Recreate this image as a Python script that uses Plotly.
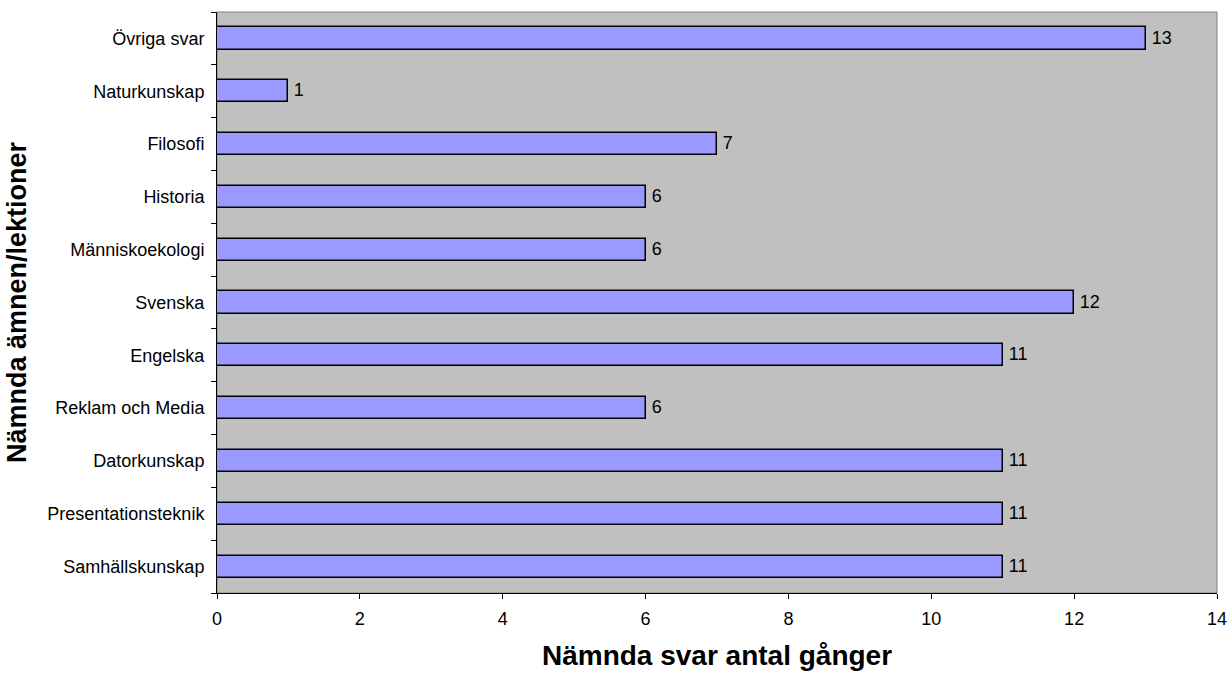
import plotly.graph_objects as go

categories = ["Samhällskunskap", "Presentationsteknik", "Datorkunskap", "Reklam och Media",
              "Engelska", "Svenska", "Människoekologi", "Historia", "Filosofi",
              "Naturkunskap", "Övriga svar"]
values = [11, 11, 11, 6, 11, 12, 6, 6, 7, 1, 13]
x_ticks = [0, 2, 4, 6, 8, 10, 12, 14]

FONT = "Liberation Sans, Arial, sans-serif"

fig = go.Figure(go.Bar(
    y=categories, x=values, orientation="h",
    width=0.42,
    marker=dict(color="#9999FF", line=dict(color="black", width=1.5)),
    text=["\u2009" + str(v) for v in values], textposition="outside",
    textfont=dict(family=FONT, size=18, color="black"),
    cliponaxis=False,
))

fig.update_layout(
    width=1230, height=673,
    margin=dict(l=217, r=13, t=12, b=80, autoexpand=False),
    paper_bgcolor="white", plot_bgcolor="#C0C0C0",
    font=dict(family=FONT, size=18, color="black"),
    showlegend=False,
    bargap=0,
)
fig.update_xaxes(
    range=[0, 14], tickvals=x_ticks, ticktext=[str(t) for t in x_ticks],
    showgrid=False, zeroline=False, automargin=False,
    showline=True, linecolor="black", linewidth=1, mirror=False,
    ticks="outside", ticklen=5, tickcolor="black",
    tickfont=dict(size=18), ticklabelstandoff=4,
    title=dict(text="<b>Nämnda svar antal gånger</b>", font=dict(size=28), standoff=17),
)
fig.update_yaxes(
    type="category", categoryorder="array", categoryarray=categories,
    range=[-0.5, len(categories) - 0.5],
    tickson="boundaries", automargin=False,
    showgrid=False, zeroline=False,
    showline=True, linecolor="black", linewidth=1,
    ticks="outside", ticklen=5, tickcolor="black",
    tickfont=dict(size=18), ticklabelstandoff=8,
    title=dict(text="<b>Nämnda ämnen/lektioner</b>", font=dict(size=27), standoff=12),
)
# gray border on top/right of plot area
fig.add_shape(type="rect", xref="paper", yref="paper", x0=0, x1=1, y0=0, y1=1,
              line=dict(color="#808080", width=1), layer="below")
fig.write_html("out.html", config={"displayModeBar": False},
               post_script="document.body.style.margin='0';document.body.style.overflow='hidden';")
